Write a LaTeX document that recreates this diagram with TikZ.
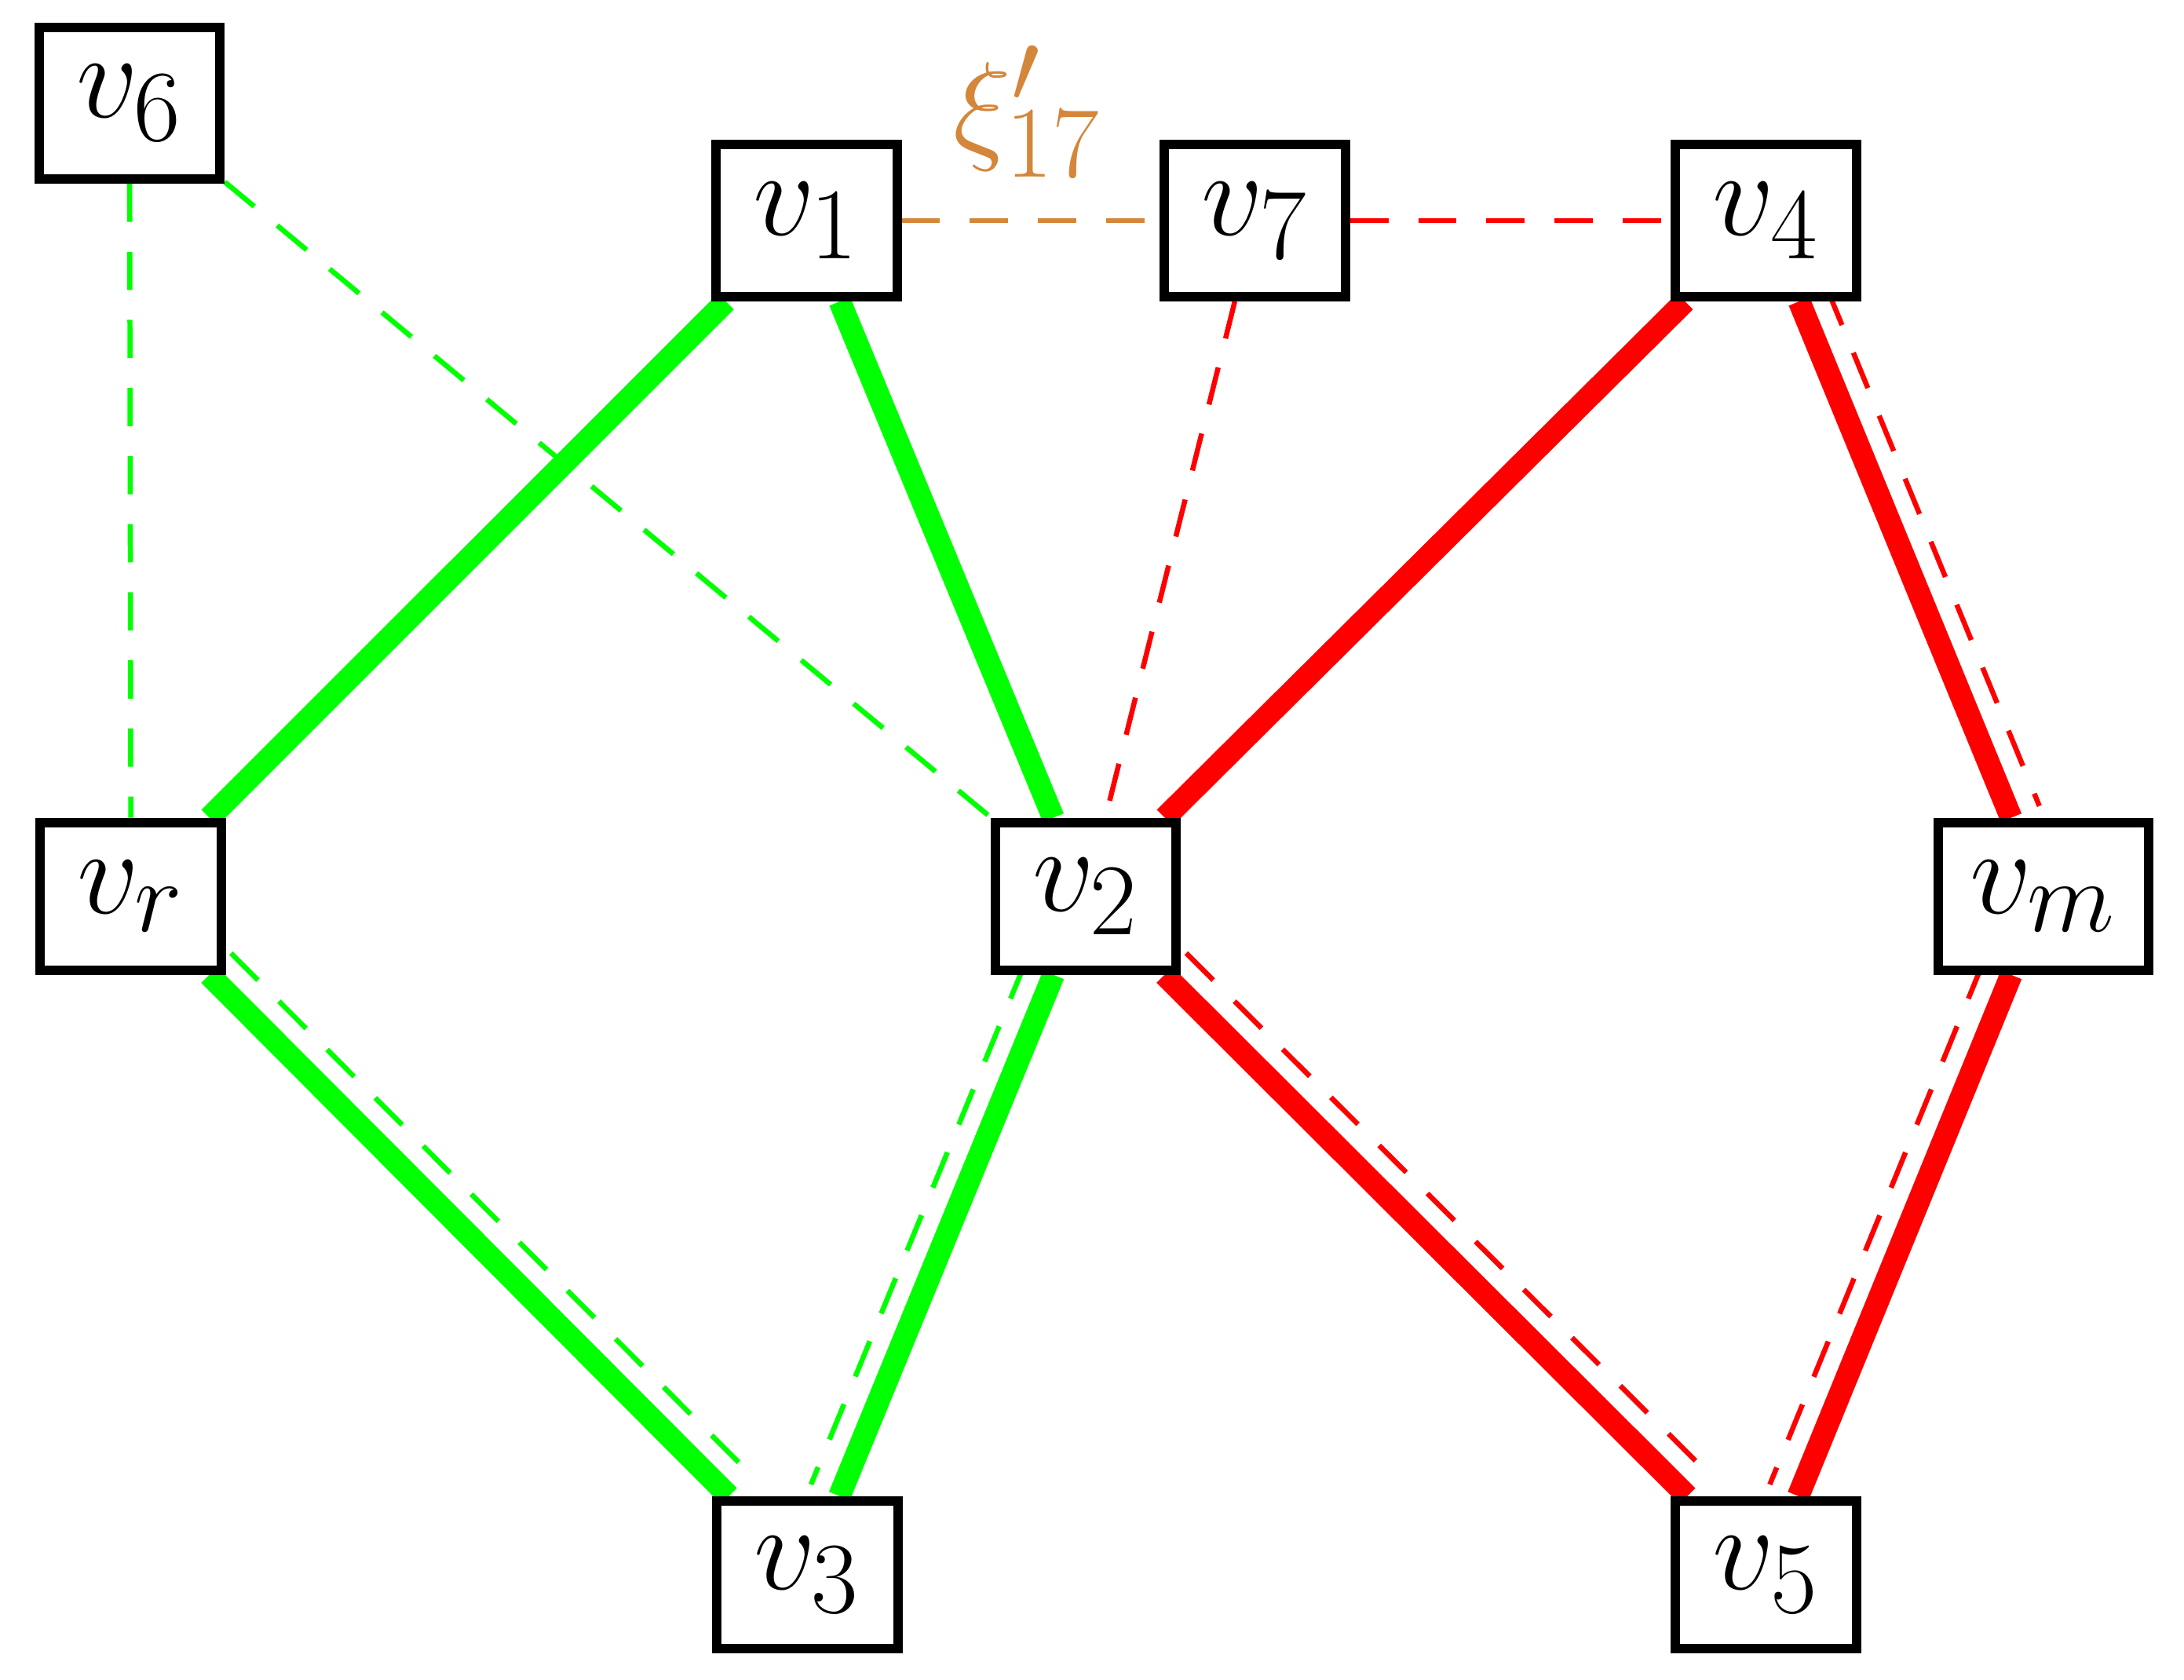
\documentclass[tikz,border=0pt]{standalone}
\usetikzlibrary{backgrounds}
\definecolor{edgeorange}{RGB}{212,134,58}
\definecolor{edgegreen}{RGB}{0,255,0}
\definecolor{edgered}{RGB}{255,0,0}
\tikzset{
  vbox/.style={draw, line width=1.92pt, fill=white, minimum width=1.30cm,
    inner sep=0pt, font=\Huge},
  toprow/.style={vbox, minimum height=1.09cm},
  midrow/.style={vbox, minimum height=1.06cm},
  heavy/.style={line width=4.6pt},
  dashline/.style={line width=1.04pt, dash pattern=on 7.8pt off 6.1pt},
}
\begin{document}
\begin{tikzpicture}[x=0.01cm, y=-0.01cm]
\useasboundingbox (0,0) rectangle (1568,1206);
% nodes
\node[toprow] (v6) at (93,74) {$v_6$};
\node[toprow] (v1) at (579,158.5) {$v_1$};
\node[toprow] (v7) at (901,158.5) {$v_7$};
\node[toprow] (v4) at (1268,158.5) {$v_4$};
\node[midrow] (vr) at (94,643.5) {$v_r$};
\node[midrow] (v2) at (779.5,643.5) {$v_2$};
\node[midrow, minimum width=1.51cm] (vm) at (1467,643.5) {$v_m$};
\node[midrow] (v3) at (579.5,1130.5) {$v_3$};
\node[midrow] (v5) at (1268,1130.5) {$v_5$};
\node[anchor=base west, inner sep=0pt, text=edgeorange, font=\Huge] (xi) at (684,105.5) {$\xi'_{17}$};
\begin{pgfonlayer}{background}
% thin dashed edges
\draw[dashline, edgegreen] (v6) -- (vr);
\draw[dashline, edgegreen] (v6) -- (v2);
\draw[dashline, edgeorange] (v1) -- (v7);
\draw[dashline, edgered] (v7) -- (v4);
\draw[dashline, edgered] (v7) -- (v2);
% heavy green edges
\draw[heavy, edgegreen] (v1) -- (vr);
\draw[heavy, edgegreen] (v1) -- (v2);
\draw[heavy, edgegreen] (vr) -- (v3);
\draw[heavy, edgegreen] (v2) -- (v3);
% heavy red edges
\draw[heavy, edgered] (v4) -- (v2);
\draw[heavy, edgered] (v4) -- (vm);
\draw[heavy, edgered] (v2) -- (v5);
\draw[heavy, edgered] (vm) -- (v5);
% dashed companions
\draw[dashline, edgegreen, transform canvas={shift={(0.156cm,0.156cm)}}] (vr) -- (v3);
\draw[dashline, edgegreen, transform canvas={shift={(-0.204cm,0.083cm)}}] (v2) -- (v3);
\draw[dashline, edgered, transform canvas={shift={(0.203cm,0.084cm)}}] (v4) -- (vm);
\draw[dashline, edgered, transform canvas={shift={(0.156cm,0.156cm)}}] (v2) -- (v5);
\draw[dashline, edgered, transform canvas={shift={(-0.204cm,0.083cm)}}] (vm) -- (v5);
\end{pgfonlayer}
\end{tikzpicture}
\end{document}
